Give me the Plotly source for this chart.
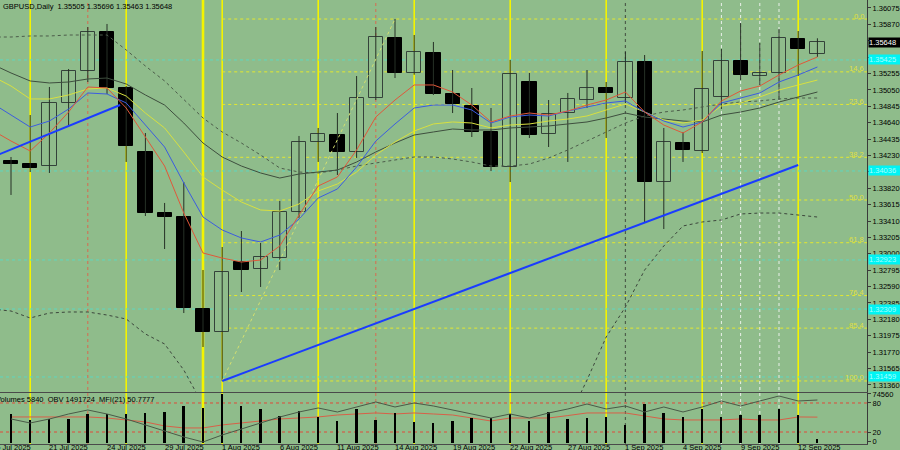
import plotly.graph_objects as go

# ---------------- data ----------------
dates = ["17 Jul 2025", "18 Jul 2025", "21 Jul 2025", "22 Jul 2025", "23 Jul 2025", "24 Jul 2025",
         "25 Jul 2025", "28 Jul 2025", "29 Jul 2025", "30 Jul 2025", "31 Jul 2025", "1 Aug 2025",
         "4 Aug 2025", "5 Aug 2025", "6 Aug 2025", "7 Aug 2025", "8 Aug 2025", "11 Aug 2025",
         "12 Aug 2025", "13 Aug 2025", "14 Aug 2025", "15 Aug 2025", "18 Aug 2025", "19 Aug 2025",
         "20 Aug 2025", "21 Aug 2025", "22 Aug 2025", "25 Aug 2025", "26 Aug 2025", "27 Aug 2025",
         "28 Aug 2025", "29 Aug 2025", "1 Sep 2025", "2 Sep 2025", "3 Sep 2025", "4 Sep 2025",
         "5 Sep 2025", "8 Sep 2025", "9 Sep 2025", "10 Sep 2025", "11 Sep 2025", "12 Sep 2025",
         "15 Sep 2025"]

opens = [1.34161, 1.34123, 1.34098, 1.34887, 1.35287, 1.35775, 1.35074, 1.34274, 1.33510, 1.33460,
         1.32309, 1.32022, 1.32897, 1.32810, 1.32947, 1.33523, 1.34399, 1.34486, 1.34274, 1.34949,
         1.35700, 1.35262, 1.35512, 1.34999, 1.34849, 1.34524, 1.34086, 1.35149, 1.34499, 1.34761,
         1.34924, 1.35074, 1.34949, 1.35400, 1.33898, 1.34386, 1.34286, 1.34962, 1.35412, 1.35224,
         1.35262, 1.35687, 1.35505]
highs = [1.34211, 1.34736, 1.35087, 1.35312, 1.35837, 1.35875, 1.35099, 1.34511, 1.33636, 1.33898,
         1.32797, 1.33085, 1.33285, 1.33135, 1.33661, 1.34474, 1.34574, 1.34761, 1.35224, 1.35837,
         1.35937, 1.35737, 1.35650, 1.35299, 1.35074, 1.34824, 1.35425, 1.35262, 1.34924, 1.35012,
         1.35299, 1.35149, 1.35525, 1.35487, 1.34574, 1.34524, 1.35537, 1.35562, 1.35887, 1.35637,
         1.35812, 1.35787, 1.35696]
lows = [1.33736, 1.34023, 1.34011, 1.34611, 1.35149, 1.34999, 1.34149, 1.33473, 1.33060, 1.32259,
        1.31834, 1.31409, 1.32522, 1.32585, 1.32797, 1.33448, 1.34149, 1.33986, 1.34199, 1.34924,
        1.35199, 1.35240, 1.34987, 1.34761, 1.34461, 1.34036, 1.33898, 1.34449, 1.34336, 1.34149,
        1.34824, 1.34449, 1.34887, 1.33385, 1.33310, 1.34149, 1.34261, 1.34812, 1.35174, 1.35112,
        1.34924, 1.35224, 1.35463]
closes = [1.34123, 1.34073, 1.34887, 1.35287, 1.35775, 1.35074, 1.34349, 1.33510, 1.33460, 1.32322,
          1.32022, 1.32772, 1.32797, 1.32960, 1.33523, 1.34399, 1.34499, 1.34274, 1.34949, 1.35712,
          1.35262, 1.35525, 1.34999, 1.34874, 1.34524, 1.34086, 1.35249, 1.34486, 1.34749, 1.34937,
          1.35074, 1.35012, 1.35400, 1.33898, 1.34399, 1.34299, 1.35062, 1.35412, 1.35237, 1.35262,
          1.35700, 1.35562, 1.35648]

volumes = [44100, 35000, 36500, 36500, 44100, 44100, 44100, 45600, 47200, 56300, 53300, 74560,
           56300, 51700, 41100, 48700, 39600, 33500, 51700, 35000, 45600, 32000, 30400, 33500,
           38000, 38000, 44100, 33500, 47200, 36500, 38000, 39600, 27400, 59300, 45600, 39600,
           51700, 39600, 42600, 42600, 51700, 42600, 5840]
obv = [1301724, 1261724, 1301724, 1351724, 1391724, 1351724, 1301724, 1241724, 1181724, 1121724,
       1071724, 1141724, 1201724, 1261724, 1321724, 1371724, 1411724, 1371724, 1421724, 1471724,
       1421724, 1461724, 1431724, 1391724, 1351724, 1311724, 1351724, 1311724, 1361724, 1401724,
       1451724, 1401724, 1431724, 1371724, 1421724, 1371724, 1421724, 1481724, 1431724, 1481724,
       1531724, 1481724, 1491724]
mfi = [51.1, 51.1, 51.1, 51.1, 51.1, 49.0, 44.9, 40.8, 32.5, 28.4, 28.4, 34.6, 38.7, 42.8, 47.0,
       49.0, 51.1, 55.2, 57.3, 59.4, 57.3, 59.4, 57.3, 55.2, 49.0, 42.8, 49.0, 49.0, 49.0, 54.0,
       59.4, 59.4, 59.4, 53.2, 47.0, 44.9, 44.9, 44.9, 47.0, 44.9, 44.9, 51.1, 50.7777]

# indicator lines, bar positions -1 .. 42
ma_x = list(range(-1, 43))
ma_red = [1.34549, 1.34411, 1.34286, 1.34511, 1.34774, 1.35087, 1.35074, 1.34824, 1.34461, 1.34098,
          1.33510, 1.33010, 1.32947, 1.32897, 1.32922, 1.33098, 1.33485, 1.33848, 1.33961, 1.34299,
          1.34711, 1.34924, 1.35112, 1.35112, 1.35024, 1.34861, 1.34649, 1.34724, 1.34761, 1.34736,
          1.34786, 1.34861, 1.34924, 1.35024, 1.34774, 1.34611, 1.34511, 1.34649, 1.34912, 1.35037,
          1.35099, 1.35237, 1.35362, 1.35462]
ma_blue = [1.34887, 1.34736, 1.34586, 1.34661, 1.34811, 1.35012, 1.34999, 1.34887, 1.34611, 1.34336,
           1.33886, 1.33460, 1.33298, 1.33198, 1.33148, 1.33235, 1.33435, 1.33698, 1.33811, 1.34086,
           1.34411, 1.34624, 1.34824, 1.34861, 1.34861, 1.34799, 1.34636, 1.34711, 1.34736, 1.34724,
           1.34786, 1.34836, 1.34887, 1.34912, 1.34774, 1.34661, 1.34586, 1.34649, 1.34887, 1.34949,
           1.35012, 1.35149, 1.35237, 1.35337]
ma_yellow = [1.35224, 1.35099, 1.34937, 1.34937, 1.34987, 1.35062, 1.35074, 1.34974, 1.34761, 1.34574,
             1.34274, 1.33961, 1.33798, 1.33648, 1.33548, 1.33535, 1.33623, 1.33786, 1.33873, 1.34023,
             1.34236, 1.34399, 1.34536, 1.34624, 1.34649, 1.34636, 1.34574, 1.34611, 1.34624, 1.34661,
             1.34686, 1.34724, 1.34799, 1.34874, 1.34774, 1.34674, 1.34636, 1.34674, 1.34849, 1.34887,
             1.34962, 1.35049, 1.35112, 1.35174]
ma_gray = [1.35374, 1.35262, 1.35162, 1.35137, 1.35149, 1.35187, 1.35199, 1.35124, 1.34987, 1.34861,
           1.34636, 1.34386, 1.34211, 1.34098, 1.34011, 1.33948, 1.33998, 1.34023, 1.34048, 1.34148,
           1.34274, 1.34386, 1.34486, 1.34524, 1.34561, 1.34549, 1.34549, 1.34574, 1.34586, 1.34599,
           1.34624, 1.34649, 1.34699, 1.34761, 1.34711, 1.34686, 1.34661, 1.34649, 1.34736, 1.34774,
           1.34824, 1.34899, 1.34962, 1.35024]
env_upper = [1.35712, 1.35712, 1.35725, 1.35725, 1.35737, 1.35737, 1.35737, 1.35550, 1.35349, 1.35162,
             1.34924, 1.34699, 1.34524, 1.34386, 1.34236, 1.34073, 1.34023, 1.34011, 1.34048, 1.34098,
             1.34136, 1.34173, 1.34211, 1.34211, 1.34186, 1.34148, 1.34098, 1.34098, 1.34123, 1.34198,
             1.34299, 1.34411, 1.34524, 1.34636, 1.34724, 1.34774, 1.34799, 1.34836, 1.34874, 1.34899,
             1.34912, 1.34937, 1.34949, 1.34949]
env_lower = [1.32309, 1.32284, 1.32197, 1.32259, 1.32272, 1.32272, 1.32234, 1.32184, 1.31997, 1.31872,
             1.31546, 1.31108] + [None] * 18 + [
             1.30921, 1.31421, 1.31959, 1.32334, 1.32797, 1.33098, 1.33348, 1.33398, 1.33423, 1.33498,
             1.33510, 1.33510, 1.33485, 1.33460]

# drawn objects
fib_low_bar, fib_low = 11, 1.31409
fib_high_bar, fib_high = 20, 1.35937
fib_levels = [0.0, 14.6, 23.6, 38.2, 50.0, 61.8, 76.4, 85.4, 100.0]
cyan_levels = [1.35425, 1.34036, 1.32923, 1.32309, 1.31459]
trend_main_x, trend_main_y = [11, 41], [1.31409, 1.34111]
trend_left_x, trend_left_y = [-1, 5.68], [1.34207, 1.34861]
yellow_vlines = [1, 6, 10, 11, 16, 21, 26, 31, 36, 41]
red_vlines = [4, 19]
gray_vlines = [32]
white_vlines = [37, 38, 39, 40]

price_ticks = [1.31360, 1.31565, 1.31770, 1.31975, 1.32180, 1.32385, 1.32590, 1.32795, 1.33000,
               1.33205, 1.33410, 1.33615, 1.33820, 1.34025, 1.34230, 1.34435, 1.34640, 1.34845,
               1.35050, 1.35255, 1.35460, 1.35665, 1.35870, 1.36075]
date_tick_pos = [-1] + list(range(2, 43, 3))
date_tick_text = ["16 Jul 2025"] + dates[2::3]

# ---------------- styling ----------------
BG = "#8fbc8b"
FONT = "Liberation Sans"
FS = 7.5
XMIN, XMAX = -0.573, 44.583
YMIN, YMAX = 1.31271, 1.36175
MAIN_BOTTOM = 0.1171
SUB_TOP = 0.1149

idx = list(range(len(opens)))
fig = go.Figure()

# wicks
wx, wy = [], []
for i, (h, l) in enumerate(zip(highs, lows)):
    wx += [i, i, None]
    wy += [l, h, None]
fig.add_trace(go.Scatter(x=wx, y=wy, mode="lines", line=dict(color="#263026", width=1),
                         hoverinfo="skip", xaxis="x", yaxis="y"))

# bodies
bull = [c >= o for o, c in zip(opens, closes)]
fig.add_trace(go.Bar(
    x=idx, base=[min(o, c) for o, c in zip(opens, closes)],
    y=[max(abs(c - o), 0.00002) for o, c in zip(opens, closes)],
    width=0.74,
    marker=dict(color=[BG if b else "black" for b in bull],
                line=dict(color=["#34423a" if b else "black" for b in bull], width=1)),
    hoverinfo="skip", xaxis="x", yaxis="y"))

# fib diagonal
fig.add_trace(go.Scatter(x=[fib_low_bar, fib_high_bar], y=[fib_low, fib_high], mode="lines",
                         line=dict(color="#d4e070", width=1, dash="dot"), hoverinfo="skip"))

# envelopes / MAs
fig.add_trace(go.Scatter(x=ma_x, y=env_upper, mode="lines",
                         line=dict(color="#4c5c4a", width=1, dash="dot"), hoverinfo="skip"))
fig.add_trace(go.Scatter(x=ma_x, y=env_lower, mode="lines", connectgaps=False,
                         line=dict(color="#3c463c", width=1, dash="dot"), hoverinfo="skip"))
for ys, col in [(ma_gray, "#3e4e3e"), (ma_yellow, "#d8e040"), (ma_blue, "#3c5ce0"), (ma_red, "#e0583a")]:
    fig.add_trace(go.Scatter(x=ma_x, y=ys, mode="lines", line=dict(color=col, width=1), hoverinfo="skip"))

# trend lines
fig.add_trace(go.Scatter(x=trend_main_x, y=trend_main_y, mode="lines",
                         line=dict(color="#1a3cff", width=2), hoverinfo="skip"))
fig.add_trace(go.Scatter(x=trend_left_x, y=trend_left_y, mode="lines",
                         line=dict(color="#1a3cff", width=2), hoverinfo="skip"))

# lower panel
fig.add_trace(go.Bar(x=idx, y=volumes, width=0.1, marker=dict(color="black", line=dict(width=0)),
                     hoverinfo="skip", xaxis="x2", yaxis="y3"))
fig.add_trace(go.Scatter(x=idx, y=obv, mode="lines", line=dict(color="#4a5a48", width=1),
                         hoverinfo="skip", xaxis="x2", yaxis="y4"))
fig.add_trace(go.Scatter(x=idx, y=mfi, mode="lines", line=dict(color="#d86048", width=1),
                         hoverinfo="skip", xaxis="x2", yaxis="y2"))

shapes = []
for v in yellow_vlines:
    shapes.append(dict(type="line", xref="x", yref="paper", x0=v, x1=v, y0=0, y1=1, layer="below",
                       line=dict(color="#f4f400", width=2.6 if v == 10 else 1.6)))
for v in red_vlines:
    shapes.append(dict(type="line", xref="x", yref="paper", x0=v, x1=v, y0=0, y1=1, layer="below",
                       line=dict(color="#d86a50", width=1, dash="dot")))
for v in gray_vlines:
    shapes.append(dict(type="line", xref="x", yref="paper", x0=v, x1=v, y0=0, y1=1, layer="below",
                       line=dict(color="#4e5e4c", width=1.2, dash="dot")))
for v in white_vlines:
    shapes.append(dict(type="line", xref="x", yref="paper", x0=v, x1=v, y0=0, y1=1, layer="below",
                       line=dict(color="#e8f0e8", width=1, dash="dot")))
for c in cyan_levels:
    shapes.append(dict(type="line", xref="paper", yref="y", x0=0, x1=1, y0=c, y1=c, layer="below",
                       line=dict(color="#5ed8c0", width=1, dash="dot")))
fib_prices = [fib_high - (fib_high - fib_low) * lv / 100.0 for lv in fib_levels]
for fp in fib_prices:
    shapes.append(dict(type="line", xref="x", yref="y", x0=fib_low_bar, x1=XMAX, y0=fp, y1=fp,
                       layer="below", line=dict(color="#e4e830", width=1, dash="dot")))
for lvl in (80, 20):
    shapes.append(dict(type="line", xref="paper", yref="y2", x0=0, x1=1, y0=lvl, y1=lvl, layer="below",
                       line=dict(color="#e04a3a", width=1, dash="dot")))

ann = []
ann.append(dict(xref="paper", yref="paper", x=0, y=1, xanchor="left", yanchor="top", xshift=1,
                showarrow=False, font=dict(family=FONT, size=FS, color="black"),
                text="GBPUSD,Daily  %.5f %.5f %.5f %.5f" % (opens[-1], highs[-1], lows[-1], closes[-1])))
ann.append(dict(xref="paper", yref="paper", x=0, y=SUB_TOP, xanchor="left", yanchor="top", xshift=-6,
                showarrow=False, font=dict(family=FONT, size=FS, color="black"),
                text="Volumes %d  OBV %d  MFI(21) %.4f" % (volumes[-1], obv[-1], mfi[-1])))
for p, t in zip(date_tick_pos, date_tick_text):
    ann.append(dict(xref="paper", yref="paper", x=(p - XMIN) / (XMAX - XMIN), y=0,
                    xanchor="left", yanchor="top", xshift=-2, yshift=3, showarrow=False,
                    font=dict(family=FONT, size=FS, color="black"), text=t))
for lv, fp in zip(fib_levels, fib_prices):
    ann.append(dict(xref="paper", yref="y", x=1, y=fp, xanchor="right", yanchor="middle", xshift=-1,
                    yshift=3, showarrow=False, font=dict(family=FONT, size=FS, color="#e0e040"),
                    text="%.1f" % lv))
for c in cyan_levels:
    ann.append(dict(xref="paper", yref="y", x=1, y=c, xanchor="left", yanchor="middle", xshift=1,
                    showarrow=False, bgcolor="#00f4f4", borderpad=0, width=32, height=9, align="left",
                    font=dict(family=FONT, size=FS, color="#a8ffff"), text="%.5f" % c))
ann.append(dict(xref="paper", yref="y", x=1, y=closes[-1], xanchor="left", yanchor="middle", xshift=1,
                showarrow=False, bgcolor="black", borderpad=0, width=32, height=9, align="left",
                font=dict(family=FONT, size=FS, color="white"), text="%.5f" % closes[-1]))

axis_font = dict(family=FONT, size=FS, color="black")
fig.update_layout(
    width=900, height=450,
    margin=dict(l=0, r=33, t=0, b=6, autoexpand=False),
    paper_bgcolor=BG, plot_bgcolor=BG,
    showlegend=False, barmode="overlay", bargap=0,
    shapes=shapes, annotations=ann,
    xaxis=dict(domain=[0, 1], range=[XMIN, XMAX], anchor="y", showticklabels=False, ticks="",
               showgrid=False, zeroline=False, showline=True, linecolor="#4a4a4a", linewidth=1,
               automargin=False),
    xaxis2=dict(domain=[0, 1], range=[XMIN, XMAX], anchor="y2", showticklabels=False, ticks="",
                showgrid=False, zeroline=False, showline=True, linecolor="#4a4a4a", linewidth=1,
                automargin=False),
    yaxis=dict(domain=[MAIN_BOTTOM, 1], range=[YMIN, YMAX], side="right", anchor="x",
               tickvals=price_ticks, tickformat=".5f", tickfont=axis_font, ticks="outside",
               ticklen=3, tickcolor="#3a3a3a", showgrid=False, zeroline=False, showline=True,
               linecolor="#3a3a3a", linewidth=1, automargin=False),
    yaxis2=dict(domain=[0, SUB_TOP], range=[-4.8, 100.7], side="right", anchor="x2",
                tickvals=[0, 20, 80], ticktext=["0", "20", "80"], tickfont=axis_font, ticks="outside",
                ticklen=3, tickcolor="#3a3a3a", showgrid=False, zeroline=False, showline=True,
                linecolor="#3a3a3a", linewidth=1, automargin=False),
    yaxis3=dict(overlaying="y2", range=[-1522, 76080], side="right", anchor="x2",
                tickvals=[max(volumes)], tickformat="d", tickfont=axis_font, ticks="outside",
                ticklen=3, tickcolor="#3a3a3a", showgrid=False, zeroline=False, showline=False,
                automargin=False),
    yaxis4=dict(overlaying="y2", range=[1051724, 1561724], visible=False),
)

fig.write_html("out.html", config={"displayModeBar": False},
               post_script="document.body.style.margin='0';document.body.style.background='%s';" % BG)
